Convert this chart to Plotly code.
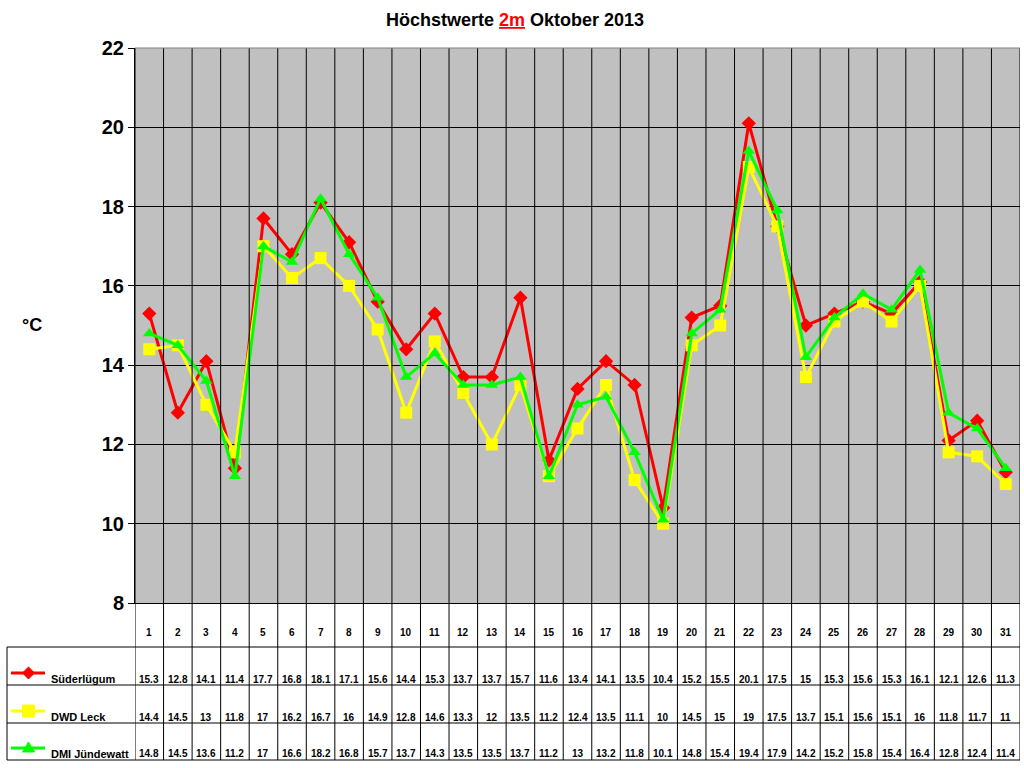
import plotly.graph_objects as go

days = list(range(1, 32))
series_names = ["Süderlügum", "DWD Leck", "DMI Jündewatt"]
suederluegum = [15.3, 12.8, 14.1, 11.4, 17.7, 16.8, 18.1, 17.1, 15.6, 14.4, 15.3, 13.7, 13.7, 15.7, 11.6, 13.4,
                14.1, 13.5, 10.4, 15.2, 15.5, 20.1, 17.5, 15, 15.3, 15.6, 15.3, 16.1, 12.1, 12.6, 11.3]
dwd_leck = [14.4, 14.5, 13, 11.8, 17, 16.2, 16.7, 16, 14.9, 12.8, 14.6, 13.3, 12, 13.5, 11.2, 12.4,
            13.5, 11.1, 10, 14.5, 15, 19, 17.5, 13.7, 15.1, 15.6, 15.1, 16, 11.8, 11.7, 11]
dmi_juendewatt = [14.8, 14.5, 13.6, 11.2, 17, 16.6, 18.2, 16.8, 15.7, 13.7, 14.3, 13.5, 13.5, 13.7, 11.2, 13,
                  13.2, 11.8, 10.1, 14.8, 15.4, 19.4, 17.9, 14.2, 15.2, 15.8, 15.4, 16.4, 12.8, 12.4, 11.4]
y_ticks = [8, 10, 12, 14, 16, 18, 20, 22]

all_values = [suederluegum, dwd_leck, dmi_juendewatt]
colors = ["#FF0000", "#FFFF00", "#00FF00"]
symbols = ["diamond", "square", "triangle-up"]
sizes = [11, 12, 11]

FONT = "Arial, Liberation Sans, sans-serif"

# plot area in pixels
L, R, T, B = 135, 1020, 48, 603
W, H = 1024, 768

def px(x):
    return (x - L) / (R - L)

def py(y):
    return (B - y) / (B - T)

fig = go.Figure()
for name, vals, c, s, sz in zip(series_names, all_values, colors, symbols, sizes):
    fig.add_trace(go.Scatter(
        x=days, y=vals, name=name, mode="lines+markers",
        line=dict(color=c, width=3),
        marker=dict(color=c, symbol=s, size=sz),
        showlegend=False
    ))

shapes = []
annotations = []

# vertical lines at category boundaries, through plot and table
for k in range(len(days) + 1):
    xb = k + 0.5
    shapes.append(dict(type="line", xref="x", yref="paper", x0=xb, x1=xb, y0=py(760), y1=1,
                       line=dict(color="black", width=1)))

# horizontal table lines
for yy in [647, 685, 723, 760]:
    shapes.append(dict(type="line", xref="paper", yref="paper", x0=px(7), x1=1, y0=py(yy), y1=py(yy),
                       line=dict(color="black", width=1)))
shapes.append(dict(type="line", xref="paper", yref="paper", x0=px(7), x1=px(7), y0=py(647), y1=py(760),
                   line=dict(color="black", width=1)))

# day numbers
for d in days:
    annotations.append(dict(x=d, y=py(632), xref="x", yref="paper", text="<b>%d</b>" % d,
                            showarrow=False, yanchor="middle",
                            font=dict(family=FONT, size=10, color="black")))

# table rows
row_y = [679, 717, 754]
key_y = [673, 711, 748]
for i, (name, vals, c) in enumerate(zip(series_names, all_values, colors)):
    for d, v in zip(days, vals):
        annotations.append(dict(x=d, y=py(row_y[i]), xref="x", yref="paper", text="<b>%g</b>" % v,
                                showarrow=False, yanchor="middle",
                                font=dict(family=FONT, size=10, color="black")))
    annotations.append(dict(x=px(49), y=py(row_y[i]), xref="paper", yref="paper", text="<b>%s</b>" % name,
                            showarrow=False, xanchor="left", yanchor="middle",
                            font=dict(family=FONT, size=11, color="black")))
    ky = key_y[i]
    shapes.append(dict(type="line", xref="paper", yref="paper", x0=px(11), x1=px(45), y0=py(ky), y1=py(ky),
                       line=dict(color=c, width=3)))
    cx = 28.5
    if i == 0:
        path = "M %f,%f L %f,%f L %f,%f L %f,%f Z" % (px(cx - 6), py(ky), px(cx), py(ky - 6),
                                                      px(cx + 6), py(ky), px(cx), py(ky + 6))
    elif i == 1:
        path = "M %f,%f L %f,%f L %f,%f L %f,%f Z" % (px(cx - 6), py(ky - 6), px(cx + 6), py(ky - 6),
                                                      px(cx + 6), py(ky + 6), px(cx - 6), py(ky + 6))
    else:
        path = "M %f,%f L %f,%f L %f,%f Z" % (px(cx - 6), py(ky + 4), px(cx), py(ky - 6),
                                              px(cx + 6), py(ky + 4))
    shapes.append(dict(type="path", xref="paper", yref="paper", path=path,
                       fillcolor=c, line=dict(color=c, width=1)))

# title and y label
annotations.append(dict(x=(515 - L) / (R - L), y=py(20), xref="paper", yref="paper",
                        text="<b>Höchstwerte <span style='color:#FF0000'><u>2m</u></span> Oktober 2013</b>",
                        showarrow=False, yanchor="middle", font=dict(family=FONT, size=18, color="black")))
annotations.append(dict(x=px(20), y=py(325), xref="paper", yref="paper", text="<b>°C</b>",
                        showarrow=False, yanchor="middle", font=dict(family=FONT, size=18, color="black")))

fig.update_layout(
    width=W, height=H,
    margin=dict(l=L, r=W - R, t=T, b=H - B, pad=0),
    paper_bgcolor="white",
    plot_bgcolor="#C0C0C0",
    xaxis=dict(range=[0.5, 31.5], showticklabels=False, showgrid=False, zeroline=False,
               ticks="", showline=True, linecolor="black", linewidth=1, mirror=False, fixedrange=True),
    yaxis=dict(range=[8, 22], tickvals=y_ticks, ticktext=["<b>%d</b>" % t for t in y_ticks],
               showgrid=True, gridcolor="black", gridwidth=1, zeroline=False,
               ticks="outside", ticklen=6, tickcolor="black",
               showline=True, linecolor="black", linewidth=1,
               tickfont=dict(family=FONT, size=20, color="black")),
    shapes=shapes,
    annotations=annotations,
)
fig.add_shape(type="line", xref="paper", yref="paper", x0=0, x1=1, y0=1, y1=1,
              line=dict(color="#808080", width=1))

fig.write_html("out.html", config={"displayModeBar": False},
               post_script="document.body.style.margin='0';document.body.style.overflow='hidden';")
